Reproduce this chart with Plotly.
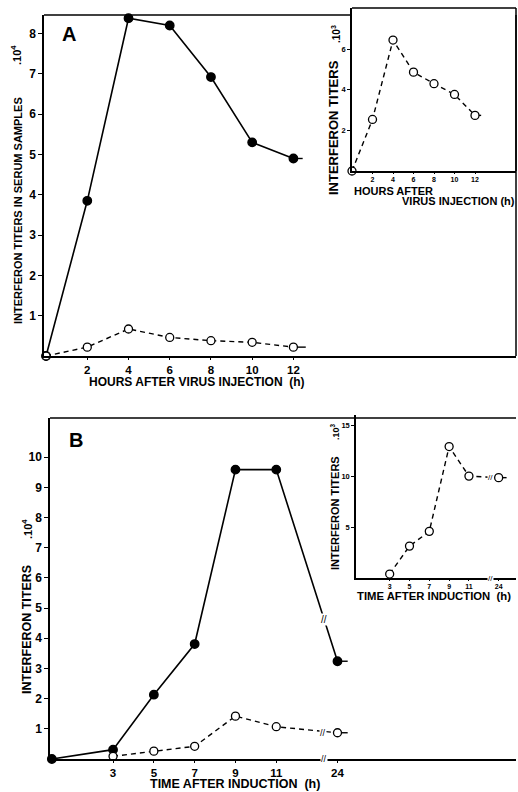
import plotly.graph_objects as go

# ---------------- data ----------------
# Panel A: hours after virus injection
hours_a = [0, 2, 4, 6, 8, 10, 12]
serum_a_filled = [0, 3.85, 8.38, 8.2, 6.92, 5.3, 4.9]        # x 10^4
serum_a_open = [0, 0.22, 0.67, 0.46, 0.38, 0.34, 0.22]       # x 10^4
inset_a_hours = [0, 2, 4, 6, 8, 10, 12]
inset_a_open = [0, 2.54, 6.45, 4.87, 4.3, 3.77, 2.74]        # x 10^3

# Panel B: time after induction (h)
time_b_filled = [0, 3, 5, 7, 9, 11, 24]
titer_b_filled = [0, 0.31, 2.13, 3.81, 9.59, 9.59, 3.24]     # x 10^4
time_b_open = [3, 5, 7, 9, 11, 24]
titer_b_open = [0.09, 0.26, 0.42, 1.42, 1.07, 0.87]          # x 10^4
inset_b_time = [3, 5, 7, 9, 11, 24]
inset_b_open = [0.39, 3.13, 4.58, 12.9, 10.0, 9.85]          # x 10^3

a_tick_hours = [2, 4, 6, 8, 10, 12]
a_tick_labels = ["2", "4", "6", "8", "10", "12"]
b_tick_times = [3, 5, 7, 9, 11, 24]
b_tick_labels = ["3", "5", "7", "9", "11", "24"]

# broken time axis: 24 h is drawn just after 11 h
def brk(t):
    return t if t <= 11 else t - 10

FONT = "Liberation Sans"
NARROW = "Liberation Sans Narrow, Liberation Sans"
BLACK = "black"

fig = go.Figure()

def series(x, y, xa, ya, filled, tail):
    # short end stub after last point (drawn first, under the marker)
    fig.add_trace(go.Scatter(
        x=[x[-1], x[-1] + tail], y=[y[-1], y[-1]], xaxis=xa, yaxis=ya,
        mode="lines", line=dict(color=BLACK, width=1.4), showlegend=False))
    fig.add_trace(go.Scatter(
        x=x, y=y, xaxis=xa, yaxis=ya, mode="lines+markers",
        line=dict(color=BLACK, width=1.6 if filled else 1.4,
                  dash="solid" if filled else "5px,4px"),
        marker=dict(symbol="circle", size=8.5 if filled else 8,
                    color=BLACK if filled else "white",
                    line=dict(color=BLACK, width=1.3)),
        cliponaxis=False, showlegend=False))

series(hours_a, serum_a_filled, "x", "y", True, 0.45)
series(hours_a, serum_a_open, "x", "y", False, 0.6)
series(inset_a_hours, inset_a_open, "x2", "y2", False, 0.6)
series([brk(t) for t in time_b_filled], titer_b_filled, "x3", "y3", True, 0.5)
series([brk(t) for t in time_b_open], titer_b_open, "x3", "y3", False, 0.5)
series([brk(t) for t in inset_b_time], inset_b_open, "x4", "y4", False, 0.8)

W, H = 518, 792
def px(x0, x1):
    return [x0 / W, x1 / W]
def py(top, bottom):
    return [1 - bottom / H, 1 - top / H]

tick_font_main = dict(family=FONT, size=12, color=BLACK, weight="bold")
tick_font_xmain = dict(family=FONT, size=11.5, color=BLACK, weight="bold")
tick_font_inset = dict(family=FONT, size=7.5, color=BLACK, weight="bold")
tick_font_xinset = dict(family=FONT, size=7, color=BLACK, weight="bold")

def axis(domain, rng, tickvals, ticktext=None, font=tick_font_main, anchor=None, ticklen=4):
    d = dict(domain=domain, range=rng, tickvals=tickvals, showgrid=False,
             zeroline=False, showline=True, linecolor=BLACK, linewidth=1.5,
             ticks="outside", ticklen=ticklen, tickwidth=1.2, tickcolor=BLACK,
             tickfont=font, anchor=anchor, fixedrange=True)
    if ticktext is not None:
        d["ticktext"] = ticktext
    return d

fig.update_layout(
    width=W, height=H, margin=dict(l=0, r=0, t=0, b=0),
    paper_bgcolor="white", plot_bgcolor="rgba(0,0,0,0)",
    xaxis=axis(px(44, 516), [-0.1, 22.8], a_tick_hours, a_tick_labels,
               font=tick_font_xmain, anchor="y", ticklen=2),
    yaxis=axis(py(15, 356), [0, 8.46], list(range(1, 9)), anchor="x"),
    xaxis2=axis(px(352, 516), [0, 16.0], a_tick_hours, a_tick_labels,
                font=tick_font_xinset, anchor="y2", ticklen=1),
    yaxis2=axis(py(8, 171), [0, 8.03], [2, 4, 6], font=tick_font_inset, anchor="x2", ticklen=3),
    xaxis3=axis(px(50, 516), [-0.09, 22.75], [brk(t) for t in b_tick_times],
                b_tick_labels, font=tick_font_xmain, anchor="y3", ticklen=2),
    yaxis3=axis(py(418, 759), [0, 11.3], list(range(1, 11)), anchor="x3"),
    xaxis4=axis(px(356, 516), [-0.4, 15.75], [brk(t) for t in b_tick_times],
                b_tick_labels, font=tick_font_xinset, anchor="y4", ticklen=1),
    yaxis4=axis(py(415, 578), [0, 16.0], [5, 10, 15], font=tick_font_inset, anchor="x4", ticklen=3),
)

# frame lines (layout, not data)
line = dict(color=BLACK, width=1.5)
shapes = [
    dict(type="line", xref="x domain", yref="y domain", x0=0, x1=(352 - 44) / (516 - 44), y0=1, y1=1, line=line),
    dict(type="line", xref="x domain", yref="y domain", x0=1, x1=1, y0=0, y1=1, line=line),
    dict(type="line", xref="x2 domain", yref="y2 domain", x0=0, x1=1, y0=1, y1=1, line=line),
    dict(type="line", xref="x2 domain", yref="y2 domain", x0=1, x1=1, y0=0, y1=1, line=line),
    dict(type="line", xref="x3 domain", yref="y3 domain", x0=0, x1=1, y0=1, y1=1, line=line),
]
fig.update_layout(shapes=shapes)

ann = []
def text(x, y, s, size, angle=0, xanchor="center", yanchor="middle", family=FONT):
    ann.append(dict(xref="paper", yref="paper", x=x / W, y=1 - y / H, text=s,
                    showarrow=False, textangle=angle, xanchor=xanchor, yanchor=yanchor,
                    font=dict(family=family, size=size, color=BLACK, weight="bold")))

# panel A labels
text(69, 34, "A", 20)
text(197, 382, "HOURS AFTER VIRUS INJECTION  (h)", 12)
text(18, 211, "INTERFERON TITERS IN SERUM SAMPLES", 11, angle=-90, family=NARROW)
text(16, 55, ".10<sup>4</sup>", 11, angle=-90)
# inset A labels
text(333, 128, "INTERFERON TITERS", 13, angle=-90, family=NARROW)
text(336, 34, ".10<sup>3</sup>", 10, angle=-90)
text(352, 191, "HOURS AFTER", 11, xanchor="left")
text(517, 201, "VIRUS INJECTION (h)", 11, xanchor="right")

# panel B labels
text(76, 440, "B", 20)
text(235, 784, "TIME AFTER INDUCTION  (h)", 12.5)
text(27, 630, "INTERFERON TITERS", 12.5, angle=-90, family=NARROW)
text(27, 529, ".10<sup>4</sup>", 11, angle=-90)
# inset B labels
text(335, 513, "INTERFERON TITERS", 11, angle=-90, family=NARROW)
text(335, 432, ".10<sup>3</sup>", 9, angle=-90)
text(434, 596, "TIME AFTER INDUCTION  (h)", 11.3)

# axis-break marks
def brkmark(xa, ya, x, y, size):
    ann.append(dict(xref=xa, yref=ya, x=x, y=y, text="//", showarrow=False,
                    font=dict(family=FONT, size=size, color=BLACK),
                    bgcolor="white", borderpad=0))

solid_break_x = 13.35
y_break = titer_b_filled[-2] + (titer_b_filled[-1] - titer_b_filled[-2]) * (solid_break_x - 11) / (brk(24) - 11)
brkmark("x3", "y3", solid_break_x, y_break, 10)
brkmark("x3", "y3", 13.3, titer_b_open[-1], 9)
brkmark("x3", "y3", 13.35, 0, 9)
brkmark("x4", "y4", 13.2, inset_b_open[-1], 8)
brkmark("x4", "y4", 13.2, 0, 8)

fig.update_layout(annotations=ann)
fig.write_html("out.html", config={"displayModeBar": False},
               post_script="document.body.style.margin='0';document.body.style.overflow='hidden';")
